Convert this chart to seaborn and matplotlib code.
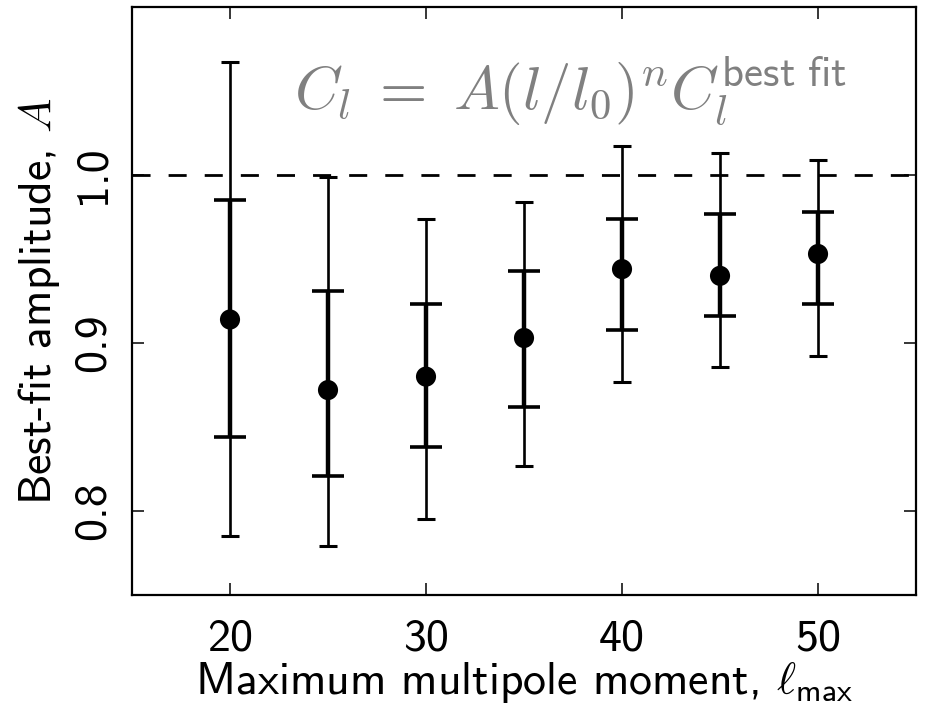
import numpy as np
import pandas as pd
import matplotlib
matplotlib.use("Agg")
import matplotlib.pyplot as plt
import seaborn as sns

# ---- data ----
lmax = [20, 25, 30, 35, 40, 45, 50]
amp = [0.914, 0.872, 0.880, 0.903, 0.944, 0.940, 0.953]
hi1 = [0.985, 0.931, 0.923, 0.943, 0.974, 0.977, 0.978]
lo1 = [0.844, 0.821, 0.838, 0.862, 0.908, 0.916, 0.923]
hi2 = [1.067, 0.999, 0.974, 0.984, 1.017, 1.013, 1.009]
lo2 = [0.785, 0.779, 0.795, 0.827, 0.877, 0.886, 0.892]
xticks = [20, 30, 40, 50]
yticks = [0.8, 0.9, 1.0]
ytick_labels = ["0.8", "0.9", "1.0"]

df = pd.DataFrame({"lmax": lmax, "amp": amp, "hi1": hi1, "lo1": lo1,
                   "hi2": hi2, "lo2": lo2})

sns.set_style("ticks")
plt.rcParams.update({
    "font.family": ["cmss10", "DejaVu Sans"],
    "mathtext.fontset": "cm",
    "axes.unicode_minus": False,
    "axes.formatter.use_mathtext": False,
    "text.color": "black",
    "axes.labelcolor": "black",
    "xtick.color": "black",
    "ytick.color": "black",
    "axes.edgecolor": "black",
})

fig = plt.figure(figsize=(9.25, 7.05), dpi=100)
ax = fig.add_axes([0.1427, 0.156, 0.8476, 0.834])

ax.axhline(1.0, color="k", lw=2, ls=(0, (6.5, 6.5)), zorder=1)

a = df["amp"].to_numpy()
ax.errorbar(df["lmax"], a, yerr=[a - df["lo2"], df["hi2"] - a], fmt="none",
            ecolor="k", elinewidth=1.9, capsize=6.8, capthick=2.2, zorder=2)
ax.errorbar(df["lmax"], a, yerr=[a - df["lo1"], df["hi1"] - a], fmt="none",
            ecolor="k", elinewidth=3.2, capsize=11.2, capthick=2.6, zorder=3)
sns.scatterplot(data=df, x="lmax", y="amp", ax=ax, color="k", s=210,
                edgecolor="none", zorder=5, legend=False)

ax.set_xlim(15, 55)
ax.set_ylim(0.75, 1.1)
ax.set_xticks(xticks)
ax.set_xticklabels([str(t) for t in xticks])
ax.set_yticks(yticks)
ax.set_yticklabels(ytick_labels, rotation=90, va="center")

for s in ax.spines.values():
    s.set_visible(True)
    s.set_linewidth(1.6)
    s.set_color("k")

ax.tick_params(direction="in", length=8.6, width=1.1, top=True, right=True,
               labelsize=33, color="k", labelcolor="k")
ax.tick_params(axis="x", pad=17)
ax.tick_params(axis="y", pad=13)

ax.set_xlabel(r"Maximum multipole moment, $\ell_{\mathsf{max}}$", fontsize=33,
              labelpad=0, color="k")
ax.set_ylabel(r"Best-fit amplitude, $A$", fontsize=33, labelpad=8, color="k")

ax.text(0.207, 0.825,
        r"$C_l\;=\;A(l/l_{\mathsf{0}})^n C_l^{\mathsf{best\ fit}}$",
        transform=ax.transAxes, fontsize=44, color="#808080",
        ha="left", va="baseline")

fig.savefig("out.png", dpi=100)
